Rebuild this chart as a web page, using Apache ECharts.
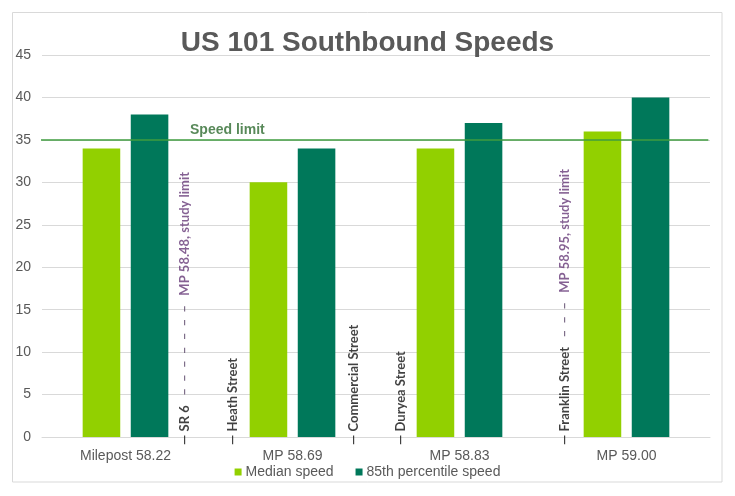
<!DOCTYPE html>
<html>
<head>
<meta charset="utf-8">
<script src="https://cdn.jsdelivr.net/npm/echarts@6/dist/echarts.min.js"></script>
<style>
html,body{margin:0;padding:0;background:#fff;}
#chart{width:735px;height:496px;}
</style>
</head>
<body>
<div id="chart"></div>
<script>
const categories = ['Milepost 58.22', 'MP 58.69', 'MP 58.83', 'MP 59.00'];
const medianSpeed = [34, 30, 34, 36];
const pct85Speed = [38, 34, 37, 40];
const speedLimit = 35;
const yTicks = { min: 0, max: 45, interval: 5 };

// annotation positions along category index space (0..4)
const annotX = [0.856, 1.144, 1.868, 2.150, 3.132];
const annotStreet = ['SR 6', 'Heath Street', 'Commercial Street', 'Duryea Street', 'Franklin Street'];
const annotStudy = ['MP 58.48, study limit', '', '', '', 'MP 58.95, study limit'];
const annotDashes = [7, 0, 0, 0, 3];
const speedLimitLabelX = 1.11;
const speedLimitSpan = [-0.05, 3.99];

const chart = echarts.init(document.getElementById('chart'));

const annotData = annotX.map((x, i) => ({ value: [x, 0], name: annotStreet[i], idx: i }));

const option = {
  animation: false,
  backgroundColor: '#fff',
  title: {
    text: 'US 101 Southbound Speeds',
    left: 'center',
    top: 24,
    textStyle: { fontFamily: 'Liberation Sans, Arial', fontWeight: 'bold', fontSize: 28, color: '#595959' }
  },
  graphic: [{
    type: 'rect', shape: { x: 12.5, y: 12.5, width: 709.5, height: 469.5 },
    style: { fill: 'none', stroke: '#d9d9d9', lineWidth: 1 }, silent: true, z: -1
  }],
  legend: {
    bottom: 12,
    left: 'center',
    itemWidth: 7, itemHeight: 7, itemGap: 22,
    icon: 'rect',
    textStyle: { fontFamily: 'Liberation Sans, Arial', fontSize: 14, color: '#595959', padding: [0, 0, 0, -1] },
    data: ['Median speed', '85th percentile speed']
  },
  grid: { left: 42, right: 25, top: 55, bottom: 59 },
  xAxis: [{
    type: 'category',
    data: categories,
    axisLine: { lineStyle: { color: '#d9d9d9' } },
    axisTick: { show: false },
    axisLabel: { fontFamily: 'Liberation Sans, Arial', fontSize: 14, color: '#595959', margin: 12 }
  }, {
    type: 'value', min: 0, max: 4, show: false
  }],
  yAxis: {
    type: 'value', min: yTicks.min, max: yTicks.max, interval: yTicks.interval,
    axisLine: { show: false }, axisTick: { show: false },
    splitLine: { lineStyle: { color: '#d9d9d9' } },
    axisLabel: { fontFamily: 'Liberation Sans, Arial', fontSize: 14, color: '#595959', margin: 11 }
  },
  series: [{
    name: 'Median speed', type: 'bar', data: medianSpeed,
    barWidth: '22.5%', barGap: '28%',
    itemStyle: { color: '#92d000' }
  }, {
    name: '85th percentile speed', type: 'bar', data: pct85Speed,
    barWidth: '22.5%',
    itemStyle: { color: '#00785a' }
  }, {
    name: 'Speed limit line', type: 'line', xAxisIndex: 1, yAxisIndex: 0,
    data: [[speedLimitSpan[0], speedLimit], [speedLimitSpan[1], speedLimit]],
    clip: false, symbol: 'none', silent: true, z: 3,
    lineStyle: { color: '#3f9c3f', width: 1.5 }
  }, {
    type: 'scatter', xAxisIndex: 1, yAxisIndex: 0,
    symbolSize: 0, clip: false, silent: true, z: 5,
    data: annotData,
    label: {
      show: true, position: [0, 8], rotate: 90, align: 'left', verticalAlign: 'middle',
      formatter: function (p) {
        const i = p.data.idx;
        let s = '{b|— ' + annotStreet[i] + '}';
        if (annotStudy[i]) {
          const d = new Array(annotDashes[i]).fill('–').join('  ');
          s += '{d|   ' + d + '   }{p|' + annotStudy[i] + '}';
        }
        return s;
      },
      rich: {
        b: { fontFamily: 'Lato', fontWeight: 'bold', fontSize: 13, color: '#111' },
        d: { fontFamily: 'Lato', fontWeight: 'bold', fontSize: 13, color: '#5e4a6c' },
        p: { fontFamily: 'Lato', fontWeight: 'bold', fontSize: 13, color: '#663a78' }
      }
    }
  }, {
    type: 'scatter', xAxisIndex: 1, yAxisIndex: 0,
    symbolSize: 0, clip: false, silent: true, z: 5,
    data: [[speedLimitLabelX, speedLimit]],
    label: {
      show: true, position: [0, -10], align: 'center', verticalAlign: 'middle',
      formatter: 'Speed limit',
      fontFamily: 'Liberation Sans, Arial', fontWeight: 'bold', fontSize: 14, color: '#2e6b30'
    }
  }]
};
chart.setOption(option);
</script>
</body>
</html>
